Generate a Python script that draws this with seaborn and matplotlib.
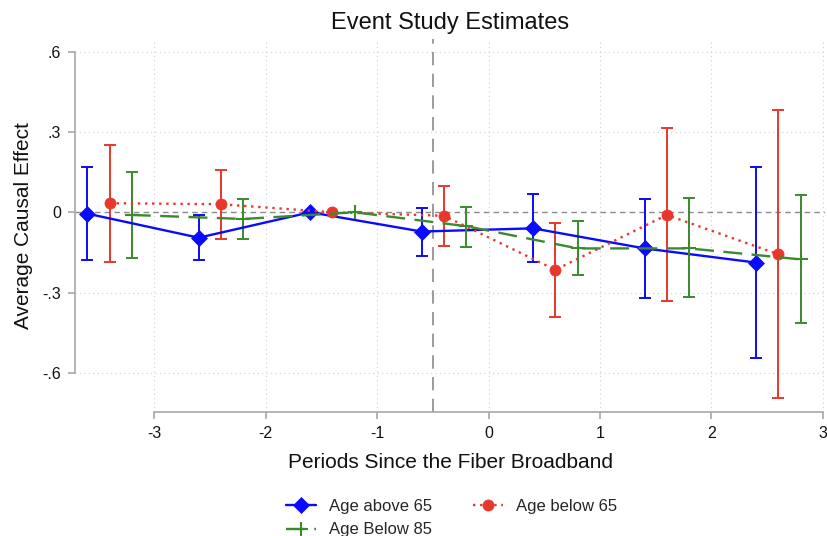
import numpy as np
import pandas as pd
import matplotlib
matplotlib.use("Agg")
import matplotlib.pyplot as plt
import seaborn as sns
from matplotlib.lines import Line2D

# Данные
periods = [-3, -2, -1, 0, 1, 2, 3]

x_above65 = [-3.6, -2.6, -1.6, -0.6, 0.4, 1.4, 2.4]
est_above65 = [-0.005, -0.095, 0.0, -0.072, -0.060, -0.135, -0.188]
lo_above65 = [-0.178, -0.178, 0.0, -0.162, -0.185, -0.321, -0.544]
hi_above65 = [0.168, -0.010, 0.0, 0.017, 0.068, 0.051, 0.168]

x_below65 = [-3.4, -2.4, -1.4, -0.4, 0.6, 1.6, 2.6]
est_below65 = [0.034, 0.030, 0.0, -0.013, -0.215, -0.010, -0.157]
lo_below65 = [-0.185, -0.101, 0.0, -0.127, -0.390, -0.333, -0.694]
hi_below65 = [0.250, 0.158, 0.0, 0.100, -0.041, 0.314, 0.383]

x_below85 = [-3.2, -2.2, -1.2, -0.2, 0.8, 1.8, 2.8]
est_below85 = [-0.010, -0.025, 0.0, -0.052, -0.135, -0.135, -0.176]
lo_below85 = [-0.170, -0.101, 0.0, -0.128, -0.234, -0.318, -0.415]
hi_below85 = [0.152, 0.049, 0.0, 0.021, -0.033, 0.055, 0.065]

y_ticks = [-0.6, -0.3, 0.0, 0.3, 0.6]
y_tick_labels = ["-.6", "-.3", "0", ".3", ".6"]

BLUE = "#0a0aff"
RED = "#e8372b"
GREEN = "#3b8a2c"

sns.set_theme(style="white")
plt.rcParams["font.family"] = ["Liberation Sans", "DejaVu Sans"]

fig = plt.figure(figsize=(8.27, 5.36), dpi=100)
ax = fig.add_axes([0.0907, 0.232, 0.907, 0.695])

series = [
    ("Age above 65", x_above65, est_above65, lo_above65, hi_above65, BLUE, "-", "D", 8),
    ("Age below 65", x_below65, est_below65, lo_below65, hi_below65, RED, (0, (1, 2)), "o", 8),
    ("Age Below 85", x_below85, est_below85, lo_below85, hi_below85, GREEN, (0, (8, 4)), "+", 10),
]

# сетка и опорные линии
for xv in periods:
    ax.axvline(xv, color="#cfcfcf", lw=0.8, ls=(0, (1, 3)), zorder=0)
for yv in [-0.6, -0.3, 0.3, 0.6]:
    ax.axhline(yv, color="#cfcfcf", lw=0.8, ls=(0, (1, 3)), zorder=0)
ax.axhline(0, color="#8a8a8a", lw=1.0, ls=(0, (4, 3)), zorder=1)
ax.axvline(-0.5, color="#8a8a8a", lw=1.2, ls=(0, (8, 5)), zorder=1)

handles = {}
for name, xs, est, lo, hi, col, ls, mk, ms in series:
    df = pd.DataFrame({"x": xs, "y": est})
    err = np.array([np.array(est) - np.array(lo), np.array(hi) - np.array(est)])
    ax.errorbar(xs, est, yerr=err, fmt="none", ecolor=col, elinewidth=1.4,
                capsize=4.5, capthick=1.4, zorder=2)
    sns.lineplot(data=df, x="x", y="y", ax=ax, color=col, linestyle=ls, lw=1.7,
                 marker=mk, markersize=ms, markeredgecolor=col,
                 markeredgewidth=1.5 if mk == "+" else 0.5, zorder=3,
                 legend=False, sort=False)
    handles[name] = Line2D([], [], color=col, linestyle=ls, lw=1.7, marker=mk,
                           markersize=ms, markeredgecolor=col,
                           markeredgewidth=1.5 if mk == "+" else 0.5)

ax.set_xlim(-3.71, 3.02)
ax.set_ylim(-0.745, 0.647)
ax.set_xticks(periods)
ax.set_xticklabels([str(p) for p in periods])
ax.set_yticks(y_ticks)
ax.set_yticklabels(y_tick_labels)

for side in ["top", "right"]:
    ax.spines[side].set_visible(False)
for side in ["left", "bottom"]:
    ax.spines[side].set_color("#a8a8a8")
    ax.spines[side].set_linewidth(1.2)
ax.spines["left"].set_bounds(-0.6, 0.6)
ax.spines["bottom"].set_bounds(-3, 3)
ax.tick_params(axis="both", which="both", direction="out", length=5, width=1.2,
               color="#a8a8a8", labelsize=11.5, labelcolor="#111111", pad=5,
               left=True, bottom=True)

ax.set_xlabel("Periods Since the Fiber Broadband", fontsize=15, color="#111111", labelpad=9)
ax.set_ylabel("Average Causal Effect", fontsize=15, color="#111111", labelpad=7)
ax.set_title("Event Study Estimates", fontsize=17, color="#111111", pad=7)

order = ["Age above 65", "Age Below 85", "Age below 65"]
fig.legend([handles[k] for k in order], order, ncol=2, loc="center",
           bbox_to_anchor=(0.546, 0.033), frameon=False, fontsize=12,
           handlelength=1.8, handletextpad=0.75, columnspacing=2.5,
           labelspacing=0.5)

fig.savefig("out.png", dpi=100)
